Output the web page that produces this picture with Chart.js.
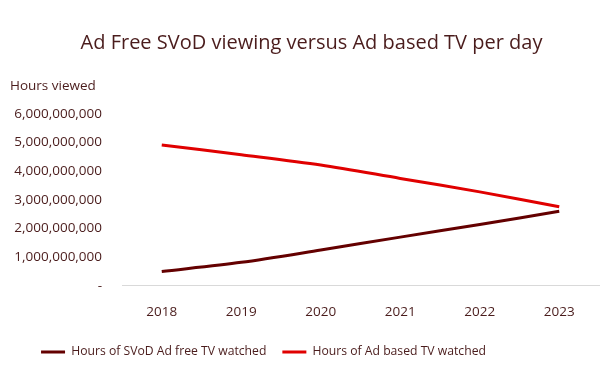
<!DOCTYPE html>
<html>
<head>
<meta charset="utf-8">
<script src="https://cdn.jsdelivr.net/npm/chart.js@4/dist/chart.umd.min.js"></script>
<style>
  html, body { margin: 0; padding: 0; background: #fff; }
  #wrap { width: 605px; height: 371px; }
</style>
</head>
<body>
<div id="wrap"><canvas id="grafico"></canvas></div>
<script>
// Datos del gráfico
const years = ['2018', '2019', '2020', '2021', '2022', '2023'];
const svodHours = [500000000, 820000000, 1250000000, 1700000000, 2140000000, 2600000000];
const adBasedHours = [4920000000, 4580000000, 4220000000, 3750000000, 3280000000, 2760000000];
const yTicks = [0, 1000000000, 2000000000, 3000000000, 4000000000, 5000000000, 6000000000];

const textColor = '#4a1c1c';
const fontFamily = '"Open Sans", "Noto Sans", sans-serif';

// Texto "Hours viewed" encima del eje Y + pequeños ajustes de posición de título y leyenda
const yLabelPlugin = {
  id: 'yLabel',
  afterLayout(chart) {
    // el título del original está algo a la derecha, la leyenda algo a la izquierda
    chart.titleBlock.left += 12;
    chart.titleBlock.right += 12;
    chart.legend.left -= 36;
    chart.legend.right -= 36;
  },
  afterDraw(chart) {
    const ctx = chart.ctx;
    ctx.save();
    ctx.font = '13.5px ' + fontFamily;
    ctx.fillStyle = textColor;
    ctx.textAlign = 'left';
    ctx.textBaseline = 'middle';
    ctx.fillText('Hours viewed', 10, 86);
    ctx.restore();
  }
};

new Chart(document.getElementById('grafico'), {
  type: 'line',
  data: {
    labels: years,
    datasets: [
      {
        label: 'Hours of SVoD Ad free TV watched',
        data: svodHours,
        borderColor: '#640000',
        backgroundColor: '#640000',
        borderWidth: 3,
        pointRadius: 0,
        tension: 0.3
      },
      {
        label: 'Hours of Ad based TV watched',
        data: adBasedHours,
        borderColor: '#e00000',
        backgroundColor: '#e00000',
        borderWidth: 3,
        pointRadius: 0,
        tension: 0.3
      }
    ]
  },
  options: {
    responsive: true,
    maintainAspectRatio: false,
    animation: false,
    layout: { padding: { left: 0, right: 6, bottom: 3 } },
    plugins: {
      title: {
        display: true,
        text: 'Ad Free SVoD viewing versus Ad based TV per day',
        color: textColor,
        font: { family: fontFamily, size: 20, weight: 'normal' },
        padding: { top: 31, bottom: 59 }
      },
      legend: {
        position: 'bottom',
        labels: {
          color: textColor,
          font: { family: fontFamily, size: 12.2 },
          boxWidth: 24,
          boxHeight: 3,
          padding: 16,
          generateLabels(chart) {
            return Chart.defaults.plugins.legend.labels.generateLabels(chart)
              .map(item => ({ ...item, lineWidth: 0 }));
          }
        }
      },
      tooltip: { enabled: false }
    },
    scales: {
      x: {
        offset: true,
        grid: { display: false },
        border: { color: '#d9d9d9' },
        ticks: { color: textColor, font: { family: fontFamily, size: 13.5 }, padding: 10 },
        afterFit(scale) { scale.height = 44; }
      },
      y: {
        min: 0,
        max: 6000000000,
        grid: { display: false },
        border: { display: false },
        afterBuildTicks(scale) { scale.ticks = yTicks.map(v => ({ value: v })); },
        afterFit(scale) { scale.width = 122; },
        ticks: {
          color: textColor,
          font: { family: fontFamily, size: 13.5 },
          padding: 12,
          callback: v => v === 0 ? '-' : v.toLocaleString('en-US')
        }
      }
    }
  },
  plugins: [yLabelPlugin]
});
</script>
</body>
</html>
